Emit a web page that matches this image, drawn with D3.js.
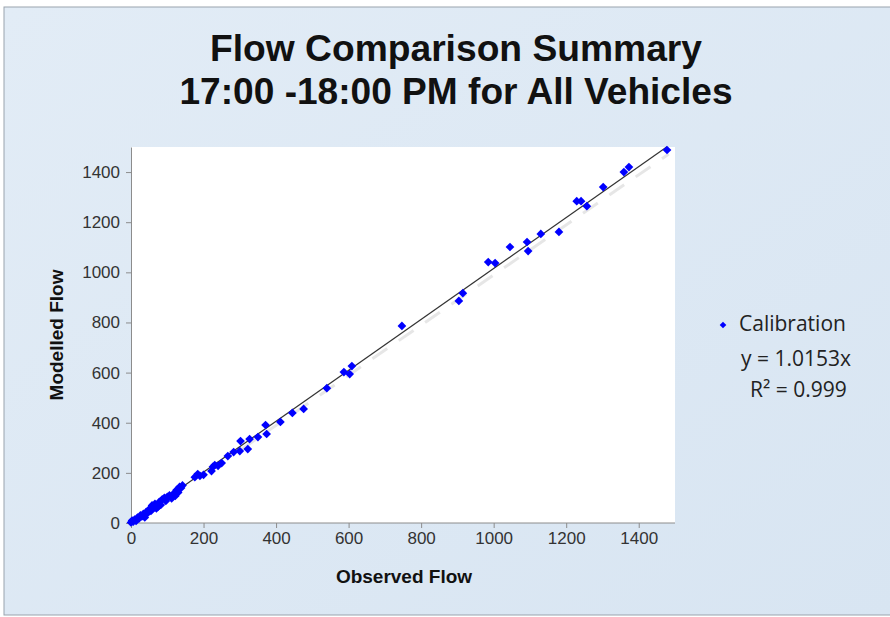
<!DOCTYPE html>
<html>
<head>
<meta charset="utf-8">
<script src="https://cdn.jsdelivr.net/npm/d3@7"></script>
<style>
  body { margin: 0; background: #fff; }
  svg { display: block; }
</style>
</head>
<body>
<div id="canvas"></div>
<script>
// observed vs modelled flows
const observed = [0, 3, 6, 10, 14, 18, 22, 26, 30, 34, 38, 42, 46, 50, 55, 58, 62, 66, 70, 74, 78, 82, 86, 92, 96, 100, 106, 112, 118, 122, 126, 130, 134, 138, 142,
    176, 184, 190, 200, 222, 226, 231, 240, 250, 267, 283, 300, 302, 322, 327, 350, 371, 374, 412, 445, 476,
    540, 587, 603, 609, 747, 904, 915, 985, 1004, 1045, 1092, 1095, 1130, 1180, 1229, 1241, 1257, 1302, 1359, 1373, 1478];
const modelled = [2, 10, 5, 14, 8, 22, 18, 30, 26, 36, 22, 44, 40, 54, 48, 70, 60, 76, 58, 64, 84, 72, 94, 100, 88, 104, 110, 98, 118, 108, 132, 122, 144, 140, 150,
    183, 195, 188, 192, 207, 224, 231, 228, 239, 267, 283, 287, 327, 295, 335, 343, 391, 355, 403, 439, 455,
    538, 602, 594, 626, 786, 886, 917, 1041, 1037, 1101, 1121, 1085, 1153, 1161, 1284, 1284, 1264, 1340, 1400, 1420, 1488];
const xTicks = [0, 200, 400, 600, 800, 1000, 1200, 1400];
const yTicks = [0, 200, 400, 600, 800, 1000, 1200, 1400];
const slope = 1.0153;
const rSquared = 0.999;
const titleLines = ['Flow Comparison Summary', '17:00 -18:00 PM for All Vehicles'];

const W = 890, H = 617;
const plot = { left: 131, top: 147, right: 675, bottom: 523 };

const svg = d3.select('#canvas').append('svg')
    .attr('width', W)
    .attr('height', H);

// page background
const defs = svg.append('defs');
const grad = defs.append('linearGradient').attr('id', 'bg').attr('x1', 0).attr('y1', 0).attr('x2', 1).attr('y2', 1);
grad.append('stop').attr('offset', '0%').attr('stop-color', '#e2ecf6');
grad.append('stop').attr('offset', '100%').attr('stop-color', '#d8e5f2');
svg.append('rect').attr('width', W).attr('height', H).attr('fill', '#fff');
svg.append('rect')
    .attr('x', 4).attr('y', 7).attr('width', W).attr('height', H - 9)
    .attr('fill', 'url(#bg)')
    .attr('stroke', '#9aa3ad').attr('stroke-width', 1);

// plot area
svg.append('rect')
    .attr('x', plot.left).attr('y', plot.top)
    .attr('width', plot.right - plot.left).attr('height', plot.bottom - plot.top)
    .attr('fill', '#ffffff');

const x = d3.scaleLinear().domain([0, 1500]).range([plot.left, plot.right]);
const y = d3.scaleLinear().domain([0, 1500]).range([plot.bottom, plot.top]);

// title
svg.append('g').selectAll('text')
    .data(titleLines)
    .enter()
    .append('text')
        .attr('x', 456)
        .attr('y', (d, i) => 61 + i * 43)
        .attr('text-anchor', 'middle')
        .attr('textLength', (d, i) => i === 0 ? 492 : 553)
        .attr('lengthAdjust', 'spacingAndGlyphs')
        .style('font-family', '"Liberation Sans", Arial, sans-serif')
        .style('font-weight', 'bold')
        .style('font-size', '36px')
        .style('fill', '#111')
        .text(d => d);

// axes
const fmt = d3.format('d');
const xAxis = svg.append('g')
    .attr('transform', 'translate(0,' + plot.bottom + ')')
    .call(d3.axisBottom(x).tickValues(xTicks).tickFormat(fmt).tickSize(5).tickSizeOuter(0).tickPadding(4));
const yAxis = svg.append('g')
    .attr('transform', 'translate(' + plot.left + ',0)')
    .call(d3.axisLeft(y).tickValues(yTicks).tickFormat(fmt).tickSize(5).tickSizeOuter(0).tickPadding(6));

[xAxis, yAxis].forEach(function(a) {
    a.select('.domain').attr('stroke', '#8c8c8c');
    a.selectAll('.tick line').attr('stroke', '#8c8c8c');
    a.selectAll('.tick text')
        .style('font-family', '"Liberation Sans", Arial, sans-serif')
        .style('font-size', '17px')
        .style('fill', '#333');
});
// extend x domain line to the right edge
xAxis.select('.domain').attr('d', 'M' + plot.left + ',0H' + plot.right);

// axis titles
svg.append('text')
    .attr('x', 404).attr('y', 583)
    .attr('text-anchor', 'middle')
    .style('font-family', '"Liberation Sans", Arial, sans-serif')
    .style('font-weight', 'bold')
    .style('font-size', '19px')
    .style('fill', '#111')
    .text('Observed Flow');
svg.append('text')
    .attr('transform', 'translate(63,335) rotate(-90)')
    .attr('text-anchor', 'middle')
    .style('font-family', '"Liberation Sans", Arial, sans-serif')
    .style('font-weight', 'bold')
    .style('font-size', '19px')
    .style('fill', '#111')
    .text('Modelled Flow');

// soft shadow line (y = x) and the fitted trend line
const lineGen = d3.line().x(d => x(d[0])).y(d => y(d[1]));
svg.append('path')
    .datum([[300, 300], [1480, 1480]])
    .attr('d', lineGen)
    .attr('transform', 'translate(1,2)')
    .attr('fill', 'none')
    .attr('stroke', '#d6d6d6')
    .attr('stroke-width', 3)
    .attr('stroke-dasharray', '18,14')
    .attr('opacity', 0.6);
svg.append('path')
    .datum([[0, 0], [1478, 1478 * slope]])
    .attr('d', lineGen)
    .attr('fill', 'none')
    .attr('stroke', '#333')
    .attr('stroke-width', 1.2);

// points
const diamond = d3.symbol().type(d3.symbolSquare).size(38);
svg.append('g').selectAll('path')
    .data(d3.zip(observed, modelled))
    .enter()
    .append('path')
        .attr('d', diamond)
        .attr('transform', d => 'translate(' + x(d[0]) + ',' + y(d[1]) + ') rotate(45)')
        .attr('fill', '#0000ff');

// legend
svg.append('path')
    .attr('d', d3.symbol().type(d3.symbolSquare).size(22))
    .attr('transform', 'translate(723,325) rotate(45)')
    .attr('fill', '#0000ff');
const legendFont = '"Open Sans", "Noto Sans", sans-serif';
[
    { text: 'Calibration', x: 739, y: 331 },
    { text: 'y = ' + slope + 'x', x: 741, y: 366 },
    { text: 'R² = ' + rSquared, x: 750, y: 397 }
].forEach(function(d) {
    svg.append('text')
        .attr('x', d.x).attr('y', d.y)
        .style('font-family', legendFont)
        .style('font-size', '21px')
        .style('fill', '#222')
        .text(d.text);
});
</script>
</body>
</html>
